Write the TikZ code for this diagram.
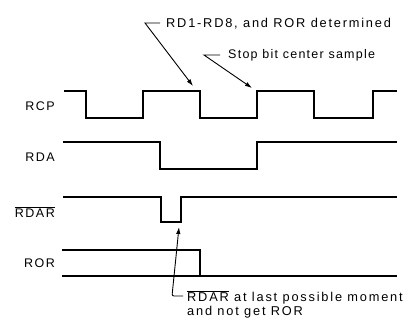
\documentclass[tikz,border=0pt]{standalone}
\usepackage{fontspec}
\setmainfont{Liberation Sans}[LetterSpace=12]
\newfontfamily\notefont{Liberation Sans}[LetterSpace=14]
\newfontfamily\notefontb{Liberation Sans}[LetterSpace=10]
\usetikzlibrary{arrows.meta}
\begin{document}
\begin{tikzpicture}[x=1pt,y=-1pt,
  wave/.style={line width=1.1pt,line join=miter},
  lead/.style={line width=0.9pt},
  arr/.style={lead,-{Latex[length=7pt,width=4.5pt]}},
  lbl/.style={font=\fontsize{12.5}{14}\selectfont,inner sep=0pt,anchor=east},
  note/.style={font=\notefont\fontsize{12.8}{14}\selectfont,inner sep=0pt,anchor=west,align=left}]
\useasboundingbox (0,0) rectangle (407,330);
% signal labels
\node[lbl] (rcp) at (55,106) {RCP};
\node[lbl] (rda) at (55,157) {RDA};
\node[lbl] (rdar) at (55,212) {$\overline{\mbox{RDAR}}$};
\node[lbl] (ror) at (55,263) {ROR};
% waveforms
\draw[wave] (64,91) -- (86,91) -- (86,118) -- (143,118) -- (143,91) -- (200,91) -- (200,118)
  -- (257,118) -- (257,91) -- (314,91) -- (314,118) -- (373,118) -- (373,91) -- (397,91);
\draw[wave] (63,142) -- (160,142) -- (160,169) -- (257,169) -- (257,142) -- (397,142);
\draw[wave] (63,197) -- (161,197) -- (161,222) -- (181,222) -- (181,197) -- (397,197);
\draw[wave] (62,250) -- (200,250) -- (200,276);
\draw[wave] (62,276) -- (397,276);
% annotations
\node[note] (n1) at (166,24) {RD1-RD8, and ROR determined};
\node[note,font=\notefontb\fontsize{12.5}{14}\selectfont] (n2) at (228,55) {Stop bit center sample};
\node[note] (n3) at (187,304) {$\overline{\mbox{RDAR}}$ at last possible moment\\and not get ROR};
\coordinate (a1) at (160,23);
\coordinate (b1) at (145,23);
\coordinate (t1) at (193,86);
\coordinate (a2) at (220,55);
\coordinate (b2) at (204,55);
\coordinate (t2) at (252,88);
\coordinate (a3) at (183,296);
\coordinate (b3) at (172,296);
\coordinate (t3) at (179,227);
\draw[arr] (a1) -- (b1) -- (t1);
\draw[arr] (a2) -- (b2) -- (t2);
\draw[arr,rounded corners=2pt] (a3) -- (b3) -- (t3);
\end{tikzpicture}
\end{document}
